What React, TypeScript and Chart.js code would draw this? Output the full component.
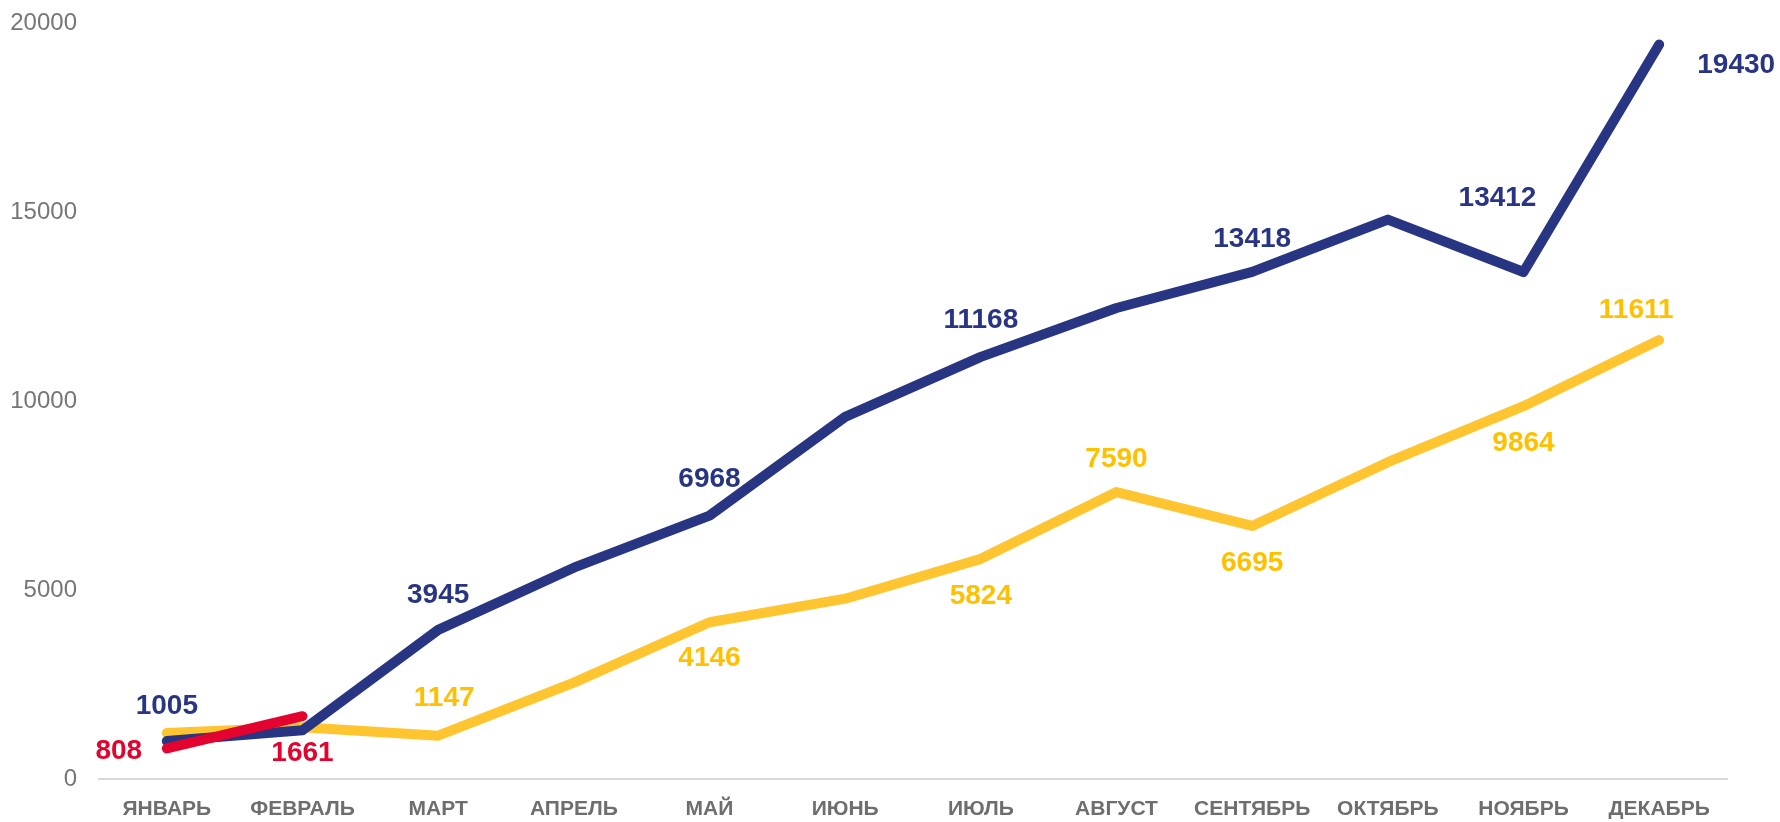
import React, { useEffect, useRef } from "react";
import { Chart, registerables } from "chart.js";

Chart.register(...registerables);

const months = [
  "ЯНВАРЬ", "ФЕВРАЛЬ", "МАРТ", "АПРЕЛЬ", "МАЙ", "ИЮНЬ",
  "ИЮЛЬ", "АВГУСТ", "СЕНТЯБРЬ", "ОКТЯБРЬ", "НОЯБРЬ", "ДЕКАБРЬ",
];

const navyValues = [1005, 1290, 3945, 5590, 6968, 9580, 11168, 12460, 13418, 14800, 13412, 19430];
const yellowValues = [1220, 1370, 1147, 2550, 4146, 4770, 5824, 7590, 6695, 8380, 9864, 11611];
const redValues = [808, 1661];

const yTicks = [0, 5000, 10000, 15000, 20000];

// which points carry a value label, with placement offsets (px) relative to the point
type Lbl = [number, number] | null;
const navyLabels: Lbl[] = [[0, -35], null, [0, -35], null, [0, -36], null, [0, -37], null, [0, -33], null, [-26, -74], [77, 21]];
const yellowLabels: Lbl[] = [null, null, [6, -37], null, [0, 36], null, [0, 37], [0, -33], [0, 37], null, [0, 37], [-23, -30]];
const redLabels: Lbl[] = [[-48, 3], [0, 37]];

const NAVY = "#283583";
const YELLOW = "#FFC530";
const YELLOW_TXT = "#FFC000";
const RED = "#E3032E";
const FONT = "'Liberation Sans', Arial, sans-serif";

const labelPlugin = {
  id: "valueLabels",
  beforeDatasetsDraw(chart: any) {
    const ctx = chart.ctx;
    ctx.save();
    ctx.font = `bold 28px ${FONT}`;
    ctx.textAlign = "center";
    ctx.textBaseline = "middle";
    chart.data.datasets.forEach((ds: any, i: number) => {
      const meta = chart.getDatasetMeta(i);
      const lbls: Lbl[] = ds.valueLabels || [];
      meta.data.forEach((pt: any, j: number) => {
        const l = lbls[j];
        if (!l) return;
        ctx.fillStyle = ds.labelColor;
        ctx.fillText(String(ds.data[j]), pt.x + l[0], pt.y + l[1]);
      });
    });
    ctx.restore();
  },
};

export default function App() {
  const ref = useRef<HTMLCanvasElement | null>(null);
  useEffect(() => {
    if (!ref.current) return;
    const common = {
      borderWidth: 10,
      borderCapStyle: "round" as const,
      borderJoinStyle: "round" as const,
      pointRadius: 0,
      pointHoverRadius: 0,
      tension: 0,
      fill: false,
    };
    const chart = new Chart(ref.current, {
      type: "line",
      data: {
        labels: months,
        datasets: [
          { ...common, label: "red", data: redValues, borderColor: RED, order: 0, labelColor: RED, valueLabels: redLabels } as any,
          { ...common, label: "navy", data: navyValues, borderColor: NAVY, order: 1, labelColor: NAVY, valueLabels: navyLabels } as any,
          { ...common, label: "yellow", data: yellowValues, borderColor: YELLOW, order: 2, labelColor: YELLOW_TXT, valueLabels: yellowLabels } as any,
        ],
      },
      options: {
        animation: false,
        responsive: true,
        maintainAspectRatio: false,
        layout: { padding: { top: 23, right: 53, left: 0, bottom: 0 } },
        plugins: { legend: { display: false }, tooltip: { enabled: false } },
        scales: {
          x: {
            offset: true,
            grid: { display: false, drawTicks: false },
            border: { display: true, color: "#D9D9D9", width: 2 },
            ticks: {
              color: "#6E6E6E",
              font: { family: FONT, size: 21, weight: "bold" },
              padding: 18,
              maxRotation: 0,
              autoSkip: false,
            },
            afterFit: (s: any) => { s.height = 43; },
          },
          y: {
            min: 0,
            max: 20000,
            afterBuildTicks: (s: any) => { s.ticks = yTicks.map((v) => ({ value: v })); },
            grid: { display: false, drawTicks: false },
            border: { display: false },
            ticks: {
              color: "#767676",
              font: { family: FONT, size: 24 },
              padding: 22,
              callback: (v: any) => String(v),
            },
            afterFit: (s: any) => { s.width = 99; s.paddingTop = 0; s.paddingBottom = 0; },
          },
        },
      },
      plugins: [labelPlugin],
    });
    return () => chart.destroy();
  }, []);
  return (
    <div style={{ position: "fixed", left: 0, top: 0, width: 1780, height: 822, background: "#fff" }}>
      <canvas ref={ref} />
    </div>
  );
}
